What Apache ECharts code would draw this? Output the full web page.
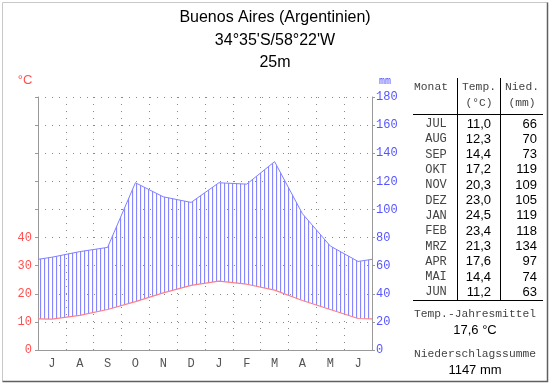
<!DOCTYPE html>
<html><head><meta charset="utf-8">
<script src="https://cdn.jsdelivr.net/npm/echarts@6/dist/echarts.min.js"></script>
<style>html,body{margin:0;padding:0;background:#fff}#c{width:550px;height:384px}</style>
</head><body><div id="c"></div>
<script>
// ---- data ----
const axisMonths = ['J','A','S','O','N','D','J','F','M','A','M','J'];
const tableMonths = ['JUL','AUG','SEP','OKT','NOV','DEZ','JAN','FEB','MRZ','APR','MAI','JUN'];
const temperature = [11.0,12.3,14.4,17.2,20.3,23.0,24.5,23.4,21.3,17.6,14.4,11.2];
const precipitation = [66,70,73,119,109,105,119,118,134,97,74,63];
const edgeTemp = 11.1;   // value at the chart edges
const edgePrec = 64.5;
const tempTicks = [0,10,20,30,40];
const precTicks = [0,20,40,60,80,100,120,140,160,180];
const annualMean = '17,6 °C';
const annualSum = '1147 mm';
const titleLines = ['Buenos Aires (Argentinien)', "34°35'S/58°22'W", '25m'];

// ---- build ----
const xs = [0].concat(temperature.map((v,i)=>i+0.5), [12]);
const tAll = [edgeTemp].concat(temperature, [edgeTemp]);
const pAll = [edgePrec].concat(precipitation, [edgePrec]);
const tempPts = xs.map((x,i)=>[x, tAll[i]]);
const precPts = xs.map((x,i)=>[x, pAll[i]]);

const chart = echarts.init(document.getElementById('c'), null, {renderer:'canvas'});
const mono = 'Liberation Mono';
const sans = 'Liberation Sans';
const gridLine = {show:true, lineStyle:{color:'#888', type:[1,6], width:1}};

// hatch pattern: vertical lines
const pat = document.createElement('canvas');
pat.width = 4; pat.height = 4;
const pc = pat.getContext('2d');
pc.fillStyle = '#8787ff'; pc.fillRect(0,0,1,4);
pc.fillStyle = '#f0f0ff'; pc.fillRect(1,0,1,4);

const graphics = [];
graphics.push({type:'polyline', shape:{points:[[2.5,381.5],[2.5,2.5],[547.5,2.5]]}, style:{stroke:'#c8c8c8', fill:null, lineWidth:1}, z:100});
graphics.push({type:'polyline', shape:{points:[[2.5,381.5],[547.5,381.5],[547.5,2.5]]}, style:{stroke:'#606060', fill:null, lineWidth:1.5}, z:100});
titleLines.forEach((t,i)=>graphics.push({type:'text', x:275, y:18+i*22.5, style:{text:t, font:'16px '+sans, fill:'#000', align:'center', verticalAlign:'middle'}}));
graphics.push({type:'text', x:25, y:80, style:{text:'°C', font:'13px '+sans, fill:'#ff5050', align:'center', verticalAlign:'middle'}});
graphics.push({type:'text', x:385, y:81, style:{text:'mm', font:'10px '+mono, fill:'#5050ff', align:'center', verticalAlign:'middle'}});
const tcol = {fill:'#444', font:'11.3px '+mono};
const mcol = {fill:'#444', font:'12px '+mono};
graphics.push({type:'text', x:431, y:87, style:Object.assign({text:'Monat', align:'center', verticalAlign:'middle'}, tcol)});
graphics.push({type:'text', x:479, y:87, style:Object.assign({text:'Temp.', align:'center', verticalAlign:'middle'}, tcol)});
graphics.push({type:'text', x:479, y:103, style:Object.assign({text:'(°C)', align:'center', verticalAlign:'middle'}, tcol)});
graphics.push({type:'text', x:522, y:87, style:Object.assign({text:'Nied.', align:'center', verticalAlign:'middle'}, tcol)});
graphics.push({type:'text', x:522, y:103, style:Object.assign({text:'(mm)', align:'center', verticalAlign:'middle'}, tcol)});
graphics.push({type:'line', shape:{x1:413,y1:114.5,x2:543,y2:114.5}, style:{stroke:'#000', lineWidth:1}});
graphics.push({type:'line', shape:{x1:413,y1:300.5,x2:543,y2:300.5}, style:{stroke:'#000', lineWidth:1}});
graphics.push({type:'line', shape:{x1:457.5,y1:78,x2:457.5,y2:300}, style:{stroke:'#000', lineWidth:1}});
graphics.push({type:'line', shape:{x1:500.5,y1:78,x2:500.5,y2:300}, style:{stroke:'#000', lineWidth:1}});
tableMonths.forEach((m,i)=>{
  const y = 124 + i*15.3;
  graphics.push({type:'text', x:436, y:y, style:Object.assign({text:m, align:'center', verticalAlign:'middle'}, mcol)});
  graphics.push({type:'text', x:491, y:y, style:{text:temperature[i].toFixed(1).replace('.',','), font:'13px '+sans, fill:'#000', align:'right', verticalAlign:'middle'}});
  graphics.push({type:'text', x:537, y:y, style:{text:String(precipitation[i]), font:'13px '+sans, fill:'#000', align:'right', verticalAlign:'middle'}});
});
graphics.push({type:'text', x:475, y:314, style:Object.assign({text:'Temp.-Jahresmittel', align:'center', verticalAlign:'middle'}, tcol)});
graphics.push({type:'text', x:475, y:330, style:{text:annualMean, font:'13px '+sans, fill:'#000', align:'center', verticalAlign:'middle'}});
graphics.push({type:'text', x:475, y:354, style:Object.assign({text:'Niederschlagssumme', align:'center', verticalAlign:'middle'}, tcol)});
graphics.push({type:'text', x:475, y:370, style:{text:annualSum, font:'13px '+sans, fill:'#000', align:'center', verticalAlign:'middle'}});

chart.setOption({
  animation:false,
  backgroundColor:'#fff',
  grid:{left:38, right:178, top:97, bottom:34},
  graphic: graphics,
  xAxis:[
    {type:'category', data:axisMonths, boundaryGap:true,
     axisLine:{lineStyle:{color:'#999'}}, axisTick:{length:5, lineStyle:{color:'#999'}},
     axisLabel:{color:'#555', fontFamily:mono, fontSize:12, margin:8},
     splitLine:gridLine},
    {type:'value', min:0, max:12, show:false}
  ],
  yAxis:[
    {type:'value', min:0, max:90, interval:10, position:'left',
     axisLine:{show:true, lineStyle:{color:'#999'}}, axisTick:{show:true, length:3, lineStyle:{color:'#999'}},
     axisLabel:{color:'#ff5050', fontFamily:mono, fontSize:12, margin:6, formatter:v=>tempTicks.indexOf(v)>=0? String(v):''},
     splitLine:{show:false}},
    {type:'value', min:0, max:180, interval:20, position:'right',
     axisLine:{show:true, lineStyle:{color:'#999'}}, axisTick:{show:true, length:3, lineStyle:{color:'#999'}},
     axisLabel:{color:'#5555ff', fontFamily:mono, fontSize:12, margin:4, formatter:v=>precTicks.indexOf(v)>=0? String(v):''},
     splitLine:gridLine}
  ],
  series:[
    {type:'custom', xAxisIndex:1, yAxisIndex:1, data:[[0,0]], z:1, silent:true,
     renderItem:function(params, api){
       // humid band between precipitation and temperature (10 °C = 20 mm)
       const top = precPts.map(p=>api.coord([p[0], p[1]]));
       const bot = tempPts.map(p=>api.coord([p[0], p[1]*2])).reverse();
       return {type:'polygon', shape:{points: top.concat(bot)},
               style:{fill:{image:pat, repeat:'repeat'}, stroke:null}};
     }},
    {type:'line', xAxisIndex:1, yAxisIndex:1, data:precPts, symbol:'none', z:3,
     lineStyle:{color:'#8080ff', width:1}},
    {type:'line', xAxisIndex:1, yAxisIndex:0, data:tempPts, symbol:'none', z:3,
     lineStyle:{color:'#ff8080', width:1.2}}
  ]
});
</script></body></html>
